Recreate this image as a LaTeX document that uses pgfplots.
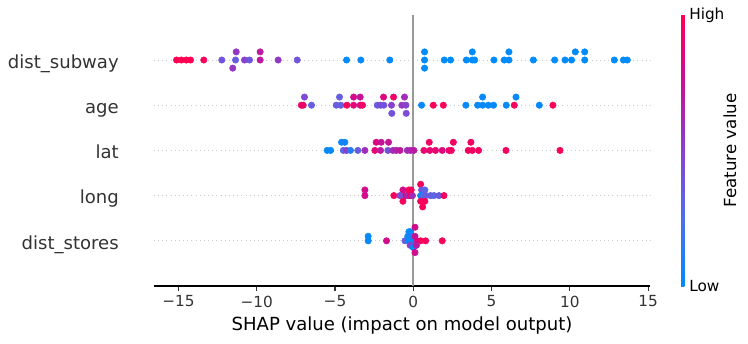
\documentclass[border=0pt]{standalone}
\usepackage{pgfplots}
\pgfplotsset{compat=1.18}
\usepackage{pgfplotstable}
\usepackage{fontspec}
\setmainfont{DejaVu Sans}
\definecolor{axisgray}{HTML}{333333}
\definecolor{zerogray}{HTML}{999999}
\definecolor{gridgray}{HTML}{CCCCCC}
\pgfplotsset{colormap={shap}{rgb255(0cm)=(0,139,250); rgb255(5cm)=(80,110,235); rgb255(9cm)=(125,75,215); rgb255(12cm)=(160,45,185); rgb255(16cm)=(210,10,140); rgb255(20cm)=(255,0,82)}}

\pgfplotstableread{
x y c
-15.12 4 1
-14.81 4 1
-14.50 4 1
-14.23 4 1
-13.38 4 0.97
-12.23 4 0.4
-11.31 4.18 0.55
-11.35 4 0.35
-11.53 3.82 0.55
-10.78 4 0.5
-10.46 4 0.38
-9.78 4.18 0.7
-9.78 4 0.72
-8.63 4 0.55
-7.41 4 0.4
-4.26 4 0.02
-3.35 4 0.02
-1.50 4 0.02
0.72 4.18 0
0.72 4 0
0.72 3.82 0
1.98 4 0
2.38 4 0
3.39 4 0
3.77 4.18 0
3.77 4 0
3.92 4 0
5.15 4 0
5.81 4 0
6.11 4.18 0
6.11 4 0
7.67 4 0
9.03 4 0
9.69 4 0
10.11 4 0
10.35 4.18 0
10.95 4.18 0
10.95 4 0
12.84 4 0
13.42 4 0
13.67 4 0
}\tsubway

\pgfplotstableread{
x y c
-6.95 3.18 0.45
-7.15 3 0.92
-7.03 3 0.92
-6.50 3 0.35
-4.71 3.18 0.35
-4.92 3 0.35
-4.63 3 0.35
-4.24 3 0.97
-3.81 3.18 0.8
-3.39 3.18 0.75
-3.81 3 0.88
-3.39 3 0.8
-3.24 3 0.95
-2.30 3 0.35
-2.09 3 0.45
-1.90 3.18 0.85
-1.88 3 0.4
-1.26 3.18 0.93
-1.39 3 0.5
-1.37 2.82 0.4
-0.73 3 0.55
-0.56 3.18 0.6
-0.47 3 0.5
-0.45 2.82 0.45
0.53 3 0.02
1.28 3 0.97
1.92 3 0.97
3.36 3 0.02
4.11 3 0.02
4.43 3.18 0.02
4.43 3 0.02
4.79 3 0.02
5.13 3 0.02
5.94 3 0.02
6.45 3 0.97
6.56 3.18 0.02
8.05 3 0.02
8.92 3 0.97
}\tage

\pgfplotstableread{
x y c
-5.50 2 0.02
-5.28 2 0.02
-4.58 2.18 0.05
-4.37 2.18 0.05
-4.47 2 0.3
-4.26 2 0.5
-4.01 2 0.1
-3.54 2 0.35
-3.09 2 0.6
-2.37 2.18 0.85
-2.05 2.18 0.75
-1.58 2.18 0.75
-2.45 2 0.88
-2.09 2 0.7
-1.62 2 0.4
-1.30 2 0.6
-1.09 2 0.65
-0.85 2 0.72
-0.38 2 0.6
-0.17 2 0.65
0.04 2 0.7
0.68 2 0.9
1.02 2.18 0.95
1.06 2 0.9
1.42 2 0.9
1.85 2 0.85
2.28 2 0.9
2.43 2 0.95
2.56 2.18 0.95
3.51 2 0.95
3.68 2.18 0.95
3.77 2 0.95
4.17 2 0.95
5.92 2 0.95
9.37 2 0.98
}\tlat

\pgfplotstableread{
x y c
-3.09 1.125 0.8
-3.09 1 0.8
-1.24 1 0.97
-0.66 1.125 0.8
-0.66 1 0.9
-0.66 0.875 0.97
-0.85 1 0.45
-0.45 1 0.75
-0.30 1 0.6
-0.18 1 0.9
-0.05 1 0.6
-0.28 1.125 0.97
-0.13 1.125 0.97
0.47 1.25 0.97
0.53 1.125 0.4
0.74 1.125 0.3
0.47 1 0.02
0.60 1 0.2
0.80 1 0.35
1.10 1 0.35
1.32 1 0.3
1.64 1 0.35
1.96 1 0.97
0.47 0.875 0.97
0.74 0.875 0.97
0.60 0.75 0.97
}\tlong

\pgfplotstableread{
x y c
-2.88 0.1 0.02
-2.88 0 0.02
-1.71 0 0.8
-0.53 0 0.35
-0.28 0.2 0.02
-0.17 0.2 0.02
-0.35 0.1 0.02
-0.10 0.1 0.1
0.11 0.3 0.8
-0.28 0 0.02
-0.07 0 0.02
0.11 0.1 0.75
0.25 0 0.8
0.47 0 0.97
0.79 0 0.97
1.85 0 0.97
-0.20 -0.1 0.5
0.00 -0.15 0.02
0.11 -0.26 0.8
0.20 -0.1 0.7
}\tstores

\begin{document}
\begin{tikzpicture}
\useasboundingbox (-110.88pt,-41.04pt) rectangle (427.68pt,205.92pt);
\begin{axis}[
  at={(0,0)}, anchor=south west, scale only axis,
  width=357.12pt, height=195.26pt,
  xmin=-16.56, xmax=15.12, ymin=-1, ymax=5,
  axis x line*=bottom, axis y line*=left,
  y axis line style={draw=none},
  x axis line style={draw=black, line width=0.8pt},
  xtick={-15,-10,-5,0,5,10,15},
  xticklabels={−15,−10,−5,0,5,10,15},
  xtick align=outside,
  xtick style={color=axisgray, line width=0.8pt},
  major tick length=3.5pt,
  xticklabel style={font=\fontsize{11}{13}\selectfont, text=axisgray},
  ytick={0,1,2,3,4},
  yticklabels={dist\_stores,long,lat,age,dist\_subway},
  ytick align=inside,
  ytick style={draw=none},
  yticklabel style={font=\fontsize{13}{15}\selectfont, text=axisgray, inner sep=0pt, anchor=base east, xshift=-25.2pt, yshift=-6pt},
  ymajorgrids,
  grid style={gridgray, line width=0.5pt, dash pattern=on 0.5pt off 2.5pt},
  xlabel={SHAP value (impact on model output)},
  xlabel style={font=\fontsize{13}{15}\selectfont},
  colormap name=shap,
  point meta min=0, point meta max=1,
  colorbar,
  colorbar style={
    at={(parent axis.north east)}, anchor=north west, xshift=13.8pt,
    width=2.4pt,
    ytick={0,1}, yticklabels={Low,High},
    ytick style={draw=none},
    major tick length=0pt,
    axis line style={draw=none},
    yticklabel style={font=\fontsize{11}{13}\selectfont, text=black},
    ylabel={Feature value},
    ylabel style={font=\fontsize{12}{14}\selectfont, at={(axis description cs:1,0.5)}, anchor=north, inner sep=0pt, yshift=-28pt},
  },
  clip=false,
]
\addplot[zerogray, line width=1.5pt, no marks, sharp plot, forget plot] coordinates {(0,-1) (0,5)};
\pgfplotsset{shapdots/.style={only marks, mark=*, mark size=2.3pt, scatter, scatter src=explicit,
    scatter/use mapped color={draw=mapped color, fill=mapped color}}}
\addplot[shapdots] table[x=x, y=y, meta=c] {\tsubway};
\addplot[shapdots] table[x=x, y=y, meta=c] {\tage};
\addplot[shapdots] table[x=x, y=y, meta=c] {\tlat};
\addplot[shapdots] table[x=x, y=y, meta=c] {\tlong};
\addplot[shapdots] table[x=x, y=y, meta=c] {\tstores};
\end{axis}
\end{tikzpicture}
\end{document}
